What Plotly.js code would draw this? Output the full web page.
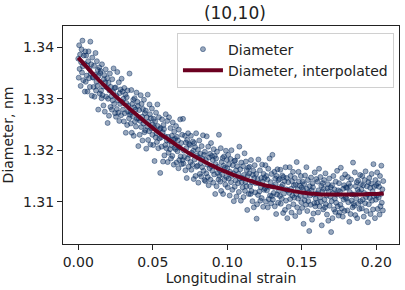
<!DOCTYPE html>
<html>
<head>
<meta charset="utf-8">
<script src="https://cdn.plot.ly/plotly-3.0.1.min.js"></script>
<style>html,body{margin:0;padding:0;background:#fff;}#chart{width:405px;height:290px;}</style>
</head>
<body>
<div id="chart"></div>
<script>
// Scatter points: longitudinal strain (x) and diameter in nm (y)
const strain = [
0.0000,0.0003,0.0006,0.0009,0.0012,0.0016,0.0019,0.0022,0.0025,0.0028,0.0031,0.0034,0.0037,0.0041,0.0044,0.0047,
0.0050,0.0053,0.0056,0.0059,0.0062,0.0066,0.0069,0.0072,0.0075,0.0078,0.0081,0.0084,0.0087,0.0091,0.0094,0.0097,
0.0100,0.0103,0.0106,0.0109,0.0112,0.0116,0.0119,0.0122,0.0125,0.0128,0.0131,0.0134,0.0137,0.0141,0.0144,0.0147,
0.0150,0.0153,0.0156,0.0159,0.0162,0.0166,0.0169,0.0172,0.0175,0.0178,0.0181,0.0184,0.0187,0.0191,0.0194,0.0197,
0.0200,0.0203,0.0206,0.0209,0.0212,0.0216,0.0219,0.0222,0.0225,0.0228,0.0231,0.0234,0.0237,0.0241,0.0244,0.0247,
0.0250,0.0253,0.0256,0.0259,0.0262,0.0266,0.0269,0.0272,0.0275,0.0278,0.0281,0.0284,0.0287,0.0291,0.0294,0.0297,
0.0300,0.0303,0.0306,0.0309,0.0312,0.0316,0.0319,0.0322,0.0325,0.0328,0.0331,0.0334,0.0337,0.0341,0.0344,0.0347,
0.0350,0.0353,0.0356,0.0359,0.0362,0.0366,0.0369,0.0372,0.0375,0.0378,0.0381,0.0384,0.0387,0.0391,0.0394,0.0397,
0.0400,0.0403,0.0406,0.0409,0.0412,0.0416,0.0419,0.0422,0.0425,0.0428,0.0431,0.0434,0.0437,0.0441,0.0444,0.0447,
0.0450,0.0453,0.0456,0.0459,0.0462,0.0466,0.0469,0.0472,0.0475,0.0478,0.0481,0.0484,0.0487,0.0491,0.0494,0.0497,
0.0500,0.0503,0.0506,0.0509,0.0512,0.0516,0.0519,0.0522,0.0525,0.0528,0.0531,0.0534,0.0537,0.0541,0.0544,0.0547,
0.0550,0.0553,0.0556,0.0559,0.0562,0.0566,0.0569,0.0572,0.0575,0.0578,0.0581,0.0584,0.0587,0.0591,0.0594,0.0597,
0.0600,0.0603,0.0606,0.0609,0.0612,0.0616,0.0619,0.0622,0.0625,0.0628,0.0631,0.0634,0.0637,0.0641,0.0644,0.0647,
0.0650,0.0653,0.0656,0.0659,0.0662,0.0666,0.0669,0.0672,0.0675,0.0678,0.0681,0.0684,0.0687,0.0691,0.0694,0.0697,
0.0700,0.0703,0.0706,0.0709,0.0712,0.0716,0.0719,0.0722,0.0725,0.0728,0.0731,0.0734,0.0737,0.0741,0.0744,0.0747,
0.0750,0.0753,0.0756,0.0759,0.0762,0.0766,0.0769,0.0772,0.0775,0.0778,0.0781,0.0784,0.0787,0.0791,0.0794,0.0797,
0.0800,0.0803,0.0806,0.0809,0.0812,0.0816,0.0819,0.0822,0.0825,0.0828,0.0831,0.0834,0.0837,0.0841,0.0844,0.0847,
0.0850,0.0853,0.0856,0.0859,0.0862,0.0866,0.0869,0.0872,0.0875,0.0878,0.0881,0.0884,0.0887,0.0891,0.0894,0.0897,
0.0900,0.0903,0.0906,0.0909,0.0912,0.0916,0.0919,0.0922,0.0925,0.0928,0.0931,0.0934,0.0937,0.0941,0.0944,0.0947,
0.0950,0.0953,0.0956,0.0959,0.0962,0.0966,0.0969,0.0972,0.0975,0.0978,0.0981,0.0984,0.0987,0.0991,0.0994,0.0997,
0.1000,0.1003,0.1006,0.1009,0.1012,0.1016,0.1019,0.1022,0.1025,0.1028,0.1031,0.1034,0.1037,0.1041,0.1044,0.1047,
0.1050,0.1053,0.1056,0.1059,0.1062,0.1066,0.1069,0.1072,0.1075,0.1078,0.1081,0.1084,0.1087,0.1091,0.1094,0.1097,
0.1100,0.1103,0.1106,0.1109,0.1112,0.1116,0.1119,0.1122,0.1125,0.1128,0.1131,0.1134,0.1137,0.1141,0.1144,0.1147,
0.1150,0.1153,0.1156,0.1159,0.1162,0.1166,0.1169,0.1172,0.1175,0.1178,0.1181,0.1184,0.1187,0.1191,0.1194,0.1197,
0.1200,0.1203,0.1206,0.1209,0.1212,0.1216,0.1219,0.1222,0.1225,0.1228,0.1231,0.1234,0.1237,0.1241,0.1244,0.1247,
0.1250,0.1253,0.1256,0.1259,0.1262,0.1266,0.1269,0.1272,0.1275,0.1278,0.1281,0.1284,0.1287,0.1291,0.1294,0.1297,
0.1300,0.1303,0.1306,0.1309,0.1312,0.1316,0.1319,0.1322,0.1325,0.1328,0.1331,0.1334,0.1337,0.1341,0.1344,0.1347,
0.1350,0.1353,0.1356,0.1359,0.1362,0.1366,0.1369,0.1372,0.1375,0.1378,0.1381,0.1384,0.1387,0.1391,0.1394,0.1397,
0.1400,0.1403,0.1406,0.1409,0.1412,0.1416,0.1419,0.1422,0.1425,0.1428,0.1431,0.1434,0.1437,0.1441,0.1444,0.1447,
0.1450,0.1453,0.1456,0.1459,0.1462,0.1466,0.1469,0.1472,0.1475,0.1478,0.1481,0.1484,0.1487,0.1491,0.1494,0.1497,
0.1500,0.1503,0.1506,0.1509,0.1512,0.1516,0.1519,0.1522,0.1525,0.1528,0.1531,0.1534,0.1537,0.1541,0.1544,0.1547,
0.1550,0.1553,0.1556,0.1559,0.1562,0.1566,0.1569,0.1572,0.1575,0.1578,0.1581,0.1584,0.1587,0.1591,0.1594,0.1597,
0.1600,0.1603,0.1606,0.1609,0.1612,0.1616,0.1619,0.1622,0.1625,0.1628,0.1631,0.1634,0.1637,0.1641,0.1644,0.1647,
0.1650,0.1653,0.1656,0.1659,0.1662,0.1666,0.1669,0.1672,0.1675,0.1678,0.1681,0.1684,0.1687,0.1691,0.1694,0.1697,
0.1700,0.1703,0.1706,0.1709,0.1712,0.1716,0.1719,0.1722,0.1725,0.1728,0.1731,0.1734,0.1737,0.1741,0.1744,0.1747,
0.1750,0.1753,0.1756,0.1759,0.1762,0.1766,0.1769,0.1772,0.1775,0.1778,0.1781,0.1784,0.1787,0.1791,0.1794,0.1797,
0.1800,0.1803,0.1806,0.1809,0.1812,0.1816,0.1819,0.1822,0.1825,0.1828,0.1831,0.1834,0.1837,0.1841,0.1844,0.1847,
0.1850,0.1853,0.1856,0.1859,0.1862,0.1866,0.1869,0.1872,0.1875,0.1878,0.1881,0.1884,0.1887,0.1891,0.1894,0.1897,
0.1900,0.1903,0.1906,0.1909,0.1912,0.1916,0.1919,0.1922,0.1925,0.1928,0.1931,0.1934,0.1937,0.1941,0.1944,0.1947,
0.1950,0.1953,0.1956,0.1959,0.1962,0.1966,0.1969,0.1972,0.1975,0.1978,0.1981,0.1984,0.1987,0.1991,0.1994,0.1997,
0.2000,0.2003,0.2006,0.2009,0.2012,0.2016,0.2019,0.2022,0.2025,0.2028,0.2031,0.2034,0.2037,0.2041,0.2044,0.2047
];
const diameter = [
1.3378,1.3341,1.3404,1.3358,1.3386,1.3325,1.3371,1.3396,1.3351,1.3413,1.3363,1.3336,1.3384,1.3368,1.3314,1.3392,
1.3333,1.3384,1.3345,1.3365,1.3314,1.3373,1.3392,1.3340,1.3358,1.3323,1.3411,1.3349,1.3367,1.3306,1.3380,1.3342,
1.3341,1.3323,1.3364,1.3304,1.3347,1.3389,1.3316,1.3333,1.3373,1.3325,1.3356,1.3279,1.3345,1.3361,1.3310,1.3350,
1.3354,1.3316,1.3301,1.3367,1.3307,1.3324,1.3287,1.3338,1.3346,1.3275,1.3332,1.3357,1.3304,1.3322,1.3340,1.3253,
1.3300,1.3331,1.3267,1.3316,1.3349,1.3284,1.3323,1.3305,1.3279,1.3338,1.3297,1.3313,1.3359,1.3290,1.3321,1.3272,
1.3322,1.3265,1.3306,1.3280,1.3352,1.3297,1.3273,1.3332,1.3257,1.3311,1.3290,1.3318,1.3268,1.3339,1.3294,1.3314,
1.3279,1.3300,1.3256,1.3321,1.3272,1.3308,1.3234,1.3292,1.3303,1.3249,1.3316,1.3275,1.3287,1.3262,1.3349,1.3269,
1.3274,1.3252,1.3317,1.3234,1.3290,1.3266,1.3298,1.3228,1.3283,1.3301,1.3256,1.3279,1.3246,1.3312,1.3261,1.3294,
1.3286,1.3208,1.3262,1.3278,1.3230,1.3257,1.3307,1.3245,1.3290,1.3265,1.3219,1.3280,1.3252,1.3298,1.3235,1.3272,
1.3239,1.3277,1.3203,1.3264,1.3246,1.3308,1.3220,1.3255,1.3237,1.3289,1.3270,1.3211,1.3262,1.3242,1.3281,1.3230,
1.3250,1.3210,1.3261,1.3245,1.3179,1.3256,1.3225,1.3273,1.3233,1.3216,1.3289,1.3247,1.3204,1.3264,1.3223,1.3241,
1.3156,1.3243,1.3225,1.3207,1.3260,1.3235,1.3178,1.3249,1.3241,1.3190,1.3227,1.3210,1.3270,1.3204,1.3219,1.3257,
1.3177,1.3226,1.3195,1.3264,1.3218,1.3202,1.3243,1.3184,1.3210,1.3228,1.3189,1.3254,1.3221,1.3172,1.3236,1.3205,
1.3222,1.3202,1.3247,1.3176,1.3226,1.3198,1.3219,1.3165,1.3240,1.3181,1.3205,1.3260,1.3188,1.3214,1.3173,1.3230,
1.3181,1.3261,1.3174,1.3199,1.3187,1.3228,1.3161,1.3215,1.3204,1.3146,1.3220,1.3184,1.3233,1.3168,1.3212,1.3191,
1.3210,1.3177,1.3228,1.3162,1.3195,1.3172,1.3217,1.3199,1.3144,1.3214,1.3182,1.3206,1.3150,1.3233,1.3168,1.3190,
1.3170,1.3201,1.3137,1.3186,1.3219,1.3154,1.3193,1.3175,1.3149,1.3208,1.3167,1.3183,1.3229,1.3160,1.3191,1.3142,
1.3197,1.3140,1.3181,1.3155,1.3227,1.3172,1.3148,1.3207,1.3132,1.3186,1.3165,1.3193,1.3143,1.3214,1.3169,1.3189,
1.3160,1.3181,1.3137,1.3202,1.3153,1.3189,1.3115,1.3173,1.3184,1.3130,1.3197,1.3156,1.3168,1.3143,1.3230,1.3150,
1.3161,1.3139,1.3204,1.3121,1.3177,1.3153,1.3185,1.3115,1.3170,1.3188,1.3143,1.3166,1.3133,1.3199,1.3148,1.3181,
1.3165,1.3128,1.3191,1.3145,1.3173,1.3112,1.3158,1.3183,1.3138,1.3200,1.3150,1.3123,1.3171,1.3155,1.3101,1.3179,
1.3129,1.3180,1.3141,1.3161,1.3110,1.3169,1.3188,1.3136,1.3154,1.3119,1.3207,1.3145,1.3163,1.3102,1.3176,1.3138,
1.3146,1.3128,1.3169,1.3109,1.3152,1.3194,1.3121,1.3138,1.3178,1.3130,1.3161,1.3084,1.3150,1.3166,1.3115,1.3155,
1.3168,1.3130,1.3115,1.3181,1.3121,1.3138,1.3101,1.3152,1.3160,1.3089,1.3146,1.3171,1.3118,1.3136,1.3154,1.3067,
1.3095,1.3144,1.3113,1.3182,1.3136,1.3120,1.3161,1.3102,1.3128,1.3146,1.3107,1.3172,1.3139,1.3090,1.3154,1.3123,
1.3146,1.3126,1.3171,1.3100,1.3150,1.3122,1.3143,1.3089,1.3164,1.3105,1.3129,1.3184,1.3112,1.3138,1.3097,1.3154,
1.3111,1.3191,1.3104,1.3129,1.3117,1.3158,1.3091,1.3145,1.3134,1.3076,1.3150,1.3114,1.3163,1.3098,1.3142,1.3121,
1.3144,1.3111,1.3162,1.3096,1.3129,1.3106,1.3151,1.3133,1.3078,1.3148,1.3116,1.3140,1.3084,1.3167,1.3102,1.3124,
1.3146,1.3068,1.3122,1.3138,1.3090,1.3117,1.3167,1.3105,1.3150,1.3125,1.3079,1.3140,1.3112,1.3158,1.3095,1.3132,
1.3108,1.3146,1.3072,1.3133,1.3115,1.3177,1.3089,1.3124,1.3106,1.3158,1.3139,1.3080,1.3131,1.3111,1.3150,1.3099,
1.3128,1.3088,1.3139,1.3123,1.3057,1.3134,1.3103,1.3151,1.3111,1.3094,1.3167,1.3125,1.3082,1.3142,1.3101,1.3119,
1.3043,1.3130,1.3112,1.3094,1.3147,1.3122,1.3065,1.3136,1.3128,1.3077,1.3114,1.3097,1.3157,1.3091,1.3106,1.3144,
1.3116,1.3098,1.3139,1.3079,1.3122,1.3164,1.3091,1.3108,1.3148,1.3100,1.3131,1.3054,1.3120,1.3136,1.3085,1.3125,
1.3142,1.3104,1.3089,1.3155,1.3095,1.3112,1.3075,1.3126,1.3134,1.3063,1.3120,1.3145,1.3092,1.3110,1.3128,1.3041,
1.3101,1.3132,1.3068,1.3117,1.3150,1.3085,1.3124,1.3106,1.3080,1.3139,1.3098,1.3114,1.3160,1.3091,1.3122,1.3073,
1.3136,1.3079,1.3120,1.3094,1.3166,1.3111,1.3087,1.3146,1.3071,1.3125,1.3104,1.3132,1.3082,1.3153,1.3108,1.3128,
1.3106,1.3127,1.3083,1.3148,1.3099,1.3135,1.3061,1.3119,1.3130,1.3076,1.3143,1.3102,1.3114,1.3089,1.3176,1.3096,
1.3114,1.3092,1.3157,1.3074,1.3130,1.3106,1.3138,1.3068,1.3123,1.3141,1.3096,1.3119,1.3086,1.3152,1.3101,1.3134,
1.3124,1.3087,1.3150,1.3104,1.3132,1.3071,1.3117,1.3142,1.3097,1.3159,1.3109,1.3082,1.3130,1.3114,1.3060,1.3138,
1.3095,1.3146,1.3107,1.3127,1.3076,1.3135,1.3154,1.3102,1.3120,1.3085,1.3173,1.3111,1.3129,1.3068,1.3142,1.3104,
1.3132,1.3112,1.3157,1.3086,1.3136,1.3108,1.3129,1.3075,1.3150,1.3091,1.3115,1.3170,1.3098,1.3124,1.3083,1.3140
];
// Interpolated curve
const fitStrain = [0.000,0.005,0.010,0.015,0.020,0.025,0.030,0.035,0.040,0.045,0.050,0.055,0.060,0.065,0.070,0.075,0.080,0.085,0.090,0.095,0.100,0.105,0.110,0.115,0.120,0.125,0.130,0.135,0.140,0.145,0.150,0.155,0.160,0.165,0.170,0.175,0.180,0.185,0.190,0.195,0.200,0.205];
const fitDiameter = [1.3380,1.3364,1.3348,1.3333,1.3319,1.3305,1.3292,1.3279,1.3267,1.3255,1.3243,1.3232,1.3222,1.3212,1.3202,1.3193,1.3185,1.3177,1.3170,1.3163,1.3157,1.3151,1.3146,1.3141,1.3136,1.3132,1.3129,1.3126,1.3123,1.3120,1.3118,1.3116,1.3115,1.3114,1.3114,1.3114,1.3114,1.3114,1.3114,1.3115,1.3115,1.3116];
const xTicks = [0, 0.05, 0.10, 0.15, 0.20];
const xTickLabels = ['0.00', '0.05', '0.10', '0.15', '0.20'];
const yTicks = [1.31, 1.32, 1.33, 1.34];
const yTickLabels = ['1.31', '1.32', '1.33', '1.34'];

const FONT = 'DejaVu Sans, sans-serif';
const traces = [
  {
    x: strain, y: diameter, type: 'scatter', mode: 'markers', name: 'Diameter',
    marker: {size: 5, color: 'rgba(12,48,98,0.42)', line: {width: 0.8, color: 'rgba(12,48,98,0.6)'}}
  },
  {
    x: fitStrain, y: fitDiameter, type: 'scatter', mode: 'lines', name: 'Diameter, interpolated',
    line: {color: '#6b0020', width: 4, shape: 'spline'}
  }
];
const layout = {
  width: 405, height: 290,
  margin: {l: 63, r: 6, t: 26, b: 46, pad: 0},
  paper_bgcolor: '#fff', plot_bgcolor: '#fff',
  font: {family: FONT, size: 14, color: '#222'},
  title: {text: '(10,10)', font: {family: FONT, size: 17, color: '#222'}, x: 0.58, xanchor: 'center', y: 0.955, yanchor: 'middle'},
  showlegend: true,
  legend: {x: 0.985, xanchor: 'right', y: 0.97, yanchor: 'top', bgcolor: 'rgba(255,255,255,0.85)', bordercolor: '#d0d0d0', borderwidth: 1, font: {family: FONT, size: 14, color: '#222'}, tracegroupgap: 0, itemwidth: 40},
  xaxis: {
    range: [-0.01025, 0.21525], tickvals: xTicks, ticktext: xTickLabels,
    ticks: 'outside', ticklen: 5, tickwidth: 1, tickcolor: '#222',
    showline: true, mirror: true, linecolor: '#222', linewidth: 1,
    showgrid: false, zeroline: false,
    tickfont: {family: FONT, size: 14, color: '#222'},
    title: {text: 'Longitudinal strain', font: {family: FONT, size: 14, color: '#222'}, standoff: 4}
  },
  yaxis: {
    range: [1.30178, 1.34414], tickvals: yTicks, ticktext: yTickLabels,
    ticks: 'outside', ticklen: 5, tickwidth: 1, tickcolor: '#222',
    showline: true, mirror: true, linecolor: '#222', linewidth: 1,
    showgrid: false, zeroline: false,
    tickfont: {family: FONT, size: 14, color: '#222'},
    title: {text: 'Diameter, nm', font: {family: FONT, size: 14, color: '#222'}, standoff: 6}
  }
};
Plotly.newPlot('chart', traces, layout, {displayModeBar: false, staticPlot: true});
</script>
</body>
</html>
